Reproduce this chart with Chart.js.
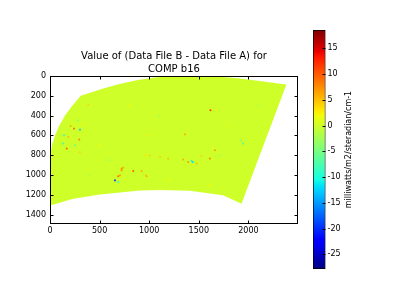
<!DOCTYPE html>
<html>
<head>
<meta charset="utf-8">
<script src="https://cdn.jsdelivr.net/npm/chart.js@4/dist/chart.umd.min.js"></script>
<style>
  html, body { margin: 0; padding: 0; background: #fff; }
  #wrap { position: relative; width: 400px; height: 300px; }
  #wrap canvas { position: absolute; left: 0; top: 0; }
</style>
</head>
<body>
<div id="wrap">
  <canvas id="main" width="400" height="300"></canvas>
  <canvas id="cbar" width="400" height="300"></canvas>
</div>
<script>
// ---- data ----
const titleLines = ['Value of (Data File B - Data File A) for', 'COMP b16'];
const cbLabel = 'milliwatts/m2/steradian/cm-1';

const xTicks = [0, 500, 1000, 1500, 2000];
const yTicks = [0, 200, 400, 600, 800, 1000, 1200, 1400];
const cbTicks = [-25, -20, -15, -10, -5, 0, 5, 10, 15];
const xMax = 2500, yMax = 1495;
const cbMin = -27.85, cbMax = 18.55;

// outline of the swath (all values ~0)
const swathX = [310, 537, 700, 873, 1050, 1208, 1400, 1600, 1800, 1913, 2150, 2383, 2258, 2156, 2064, 1930, 1745, 1410, 1109, 906, 705, 504, 235, 0, 0, 7, 20, 50, 95, 151, 225, 310];
const swathY = [200, 127, 80, 43, 15, 3, -3, 2, 15, 26, 55, 87, 420, 690, 935, 1290, 1205, 1160, 1152, 1157, 1178, 1197, 1240, 1308, 930, 800, 700, 600, 500, 400, 300, 200];
const swathVal = 0;

// isolated difference pixels
const ptX = [208, 302, 242, 141, 184, 295, 134, 168, 252, 302, 722, 655, 688, 705, 738, 839, 923, 974, 688, 1007, 957, 1360, 1191, 1343, 1427, 1393, 967, 1477, 1528, 1618, 1947, 1930, 1662, 1611, 1440, 386, 336, 285, 1713, 1109, 722,
  500, 1100, 800, 1800, 2100, 1200, 400, 1600, 1000, 600];
const ptY = [505, 541, 531, 599, 616, 642, 683, 733, 700, 768, 935, 1054, 1071, 1003, 925, 960, 960, 1013, 1013, 801, 801, 589, 834, 844, 859, 869, 1003, 885, 811, 346, 683, 650, 750, 834, 870, 289, 481, 448, 801, 817, 953,
  700, 400, 300, 500, 300, 1050, 1000, 1100, 600, 850];
const ptVal = [6, -13, 9, -10, 5, 8, -9, 10, -6, 4, 8, -20, -10, 7, 6, 10, 6, 6, 9, 4, 3, 6, 5, 6, -11, 7, 5, 5, 4, 12, -8, -5, 7, 8, -12, 4, 3, -4, -3, 4, 8,
  2, -2, 2, 2, -2, 2, -2, 2, 3, -3];

// ---- jet colormap ----
const jetR = [[0, 0], [0.35, 0], [0.66, 1], [0.89, 1], [1, 0.5]];
const jetG = [[0, 0], [0.125, 0], [0.375, 1], [0.64, 1], [0.91, 0], [1, 0]];
const jetB = [[0, 0.5], [0.11, 1], [0.34, 1], [0.65, 0], [1, 0]];

function seg(pts, t) {
  for (let i = 1; i < pts.length; i++) {
    if (t <= pts[i][0]) {
      const [t0, v0] = pts[i - 1], [t1, v1] = pts[i];
      return v0 + (v1 - v0) * (t - t0) / (t1 - t0);
    }
  }
  return pts[pts.length - 1][1];
}
function jetAt(t) {
  t = Math.min(1, Math.max(0, t));
  const c = [jetR, jetG, jetB].map(p => Math.round(seg(p, t) * 255));
  return `rgb(${c[0]},${c[1]},${c[2]})`;
}
const jet = (v) => jetAt((v - cbMin) / (cbMax - cbMin));

const FONT = 'DejaVu Sans';
const plain = (v) => String(v);

// ---- plugins ----
const frame = {
  id: 'frame',
  afterDraw(chart) {
    const { ctx, chartArea: a, scales: { x, y } } = chart;
    const L = Math.round(a.left) + 0.5, R = Math.round(a.right) - 0.5;
    const T = Math.round(a.top) + 0.5, B = Math.round(a.bottom) - 0.5;
    ctx.save();
    ctx.strokeStyle = '#000';
    ctx.lineWidth = 1;
    ctx.beginPath();
    for (const v of xTicks) {
      const px = Math.round(x.getPixelForValue(v)) + 0.5;
      ctx.moveTo(px, B); ctx.lineTo(px, B - 3);
      ctx.moveTo(px, T); ctx.lineTo(px, T + 3);
    }
    for (const v of yTicks) {
      const py = Math.round(y.getPixelForValue(v)) + 0.5;
      ctx.moveTo(L, py); ctx.lineTo(L + 3, py);
      ctx.moveTo(R, py); ctx.lineTo(R - 3, py);
    }
    ctx.stroke();
    ctx.strokeRect(L, T, R - L, B - T);
    ctx.restore();
  }
};

const cbDecor = {
  id: 'cbDecor',
  afterDraw(chart) {
    const { ctx, chartArea: a, scales: { y } } = chart;
    ctx.save();
    ctx.strokeStyle = '#000';
    ctx.lineWidth = 1;
    ctx.beginPath();
    for (const v of cbTicks) {
      const py = Math.round(y.getPixelForValue(v)) + 0.5;
      ctx.moveTo(a.right, py); ctx.lineTo(a.right - 3, py);
    }
    ctx.stroke();
    ctx.fillStyle = '#000';
    ctx.font = `8px "${FONT}"`;
    ctx.textAlign = 'center';
    ctx.textBaseline = 'middle';
    ctx.translate(348.5, (a.top + a.bottom) / 2);
    ctx.rotate(-Math.PI / 2);
    ctx.fillText(cbLabel, 0, 0);
    ctx.restore();
  }
};

// ---- main image ----
new Chart(document.getElementById('main'), {
  type: 'scatter',
  data: {
    datasets: [
      {
        data: ptX.map((x, i) => ({ x, y: ptY[i] })),
        pointStyle: 'rect',
        pointRadius: 1.2,
        pointBorderWidth: 0,
        backgroundColor: ptVal.map(jet),
        order: 1
      },
      {
        data: swathX.map((x, i) => ({ x, y: swathY[i] })),
        showLine: true,
        fill: 'shape',
        tension: 0,
        pointRadius: 0,
        borderWidth: 0,
        borderColor: jet(swathVal),
        backgroundColor: jet(swathVal),
        order: 2
      }
    ]
  },
  options: {
    responsive: false,
    animation: false,
    events: [],
    layout: { padding: { left: 0, right: 102, top: 0, bottom: 56 } },
    plugins: {
      legend: { display: false },
      tooltip: { enabled: false },
      title: {
        display: true,
        text: titleLines,
        fullSize: false,
        color: '#000',
        font: { family: FONT, size: 10, weight: 'normal', lineHeight: 1.3 },
        padding: { top: 49.5, bottom: 0.5 }
      }
    },
    scales: {
      x: {
        type: 'linear', min: 0, max: xMax,
        grid: { display: false, drawTicks: false }, border: { display: false },
        ticks: { color: '#000', font: { family: FONT, size: 8 }, padding: 2, maxRotation: 0, callback: plain },
        afterBuildTicks: (s) => { s.ticks = xTicks.map(v => ({ value: v })); },
        afterFit: (s) => { s.height = 20; }
      },
      y: {
        type: 'linear', min: 0, max: yMax, reverse: true,
        grid: { display: false, drawTicks: false }, border: { display: false },
        ticks: { color: '#000', font: { family: FONT, size: 8 }, padding: 4, callback: plain },
        afterBuildTicks: (s) => { s.ticks = yTicks.map(v => ({ value: v })); },
        afterFit: (s) => { s.width = 50; }
      }
    }
  },
  plugins: [frame]
});

// ---- colour bar ----
const jetStops = [...new Set([...jetR, ...jetG, ...jetB].map(p => p[0]))].sort((a, b) => a - b);

new Chart(document.getElementById('cbar'), {
  type: 'bar',
  data: {
    labels: [''],
    datasets: [{
      data: [[cbMin, cbMax]],
      backgroundColor: (c) => {
        const { chart } = c;
        if (!chart.chartArea) return 'transparent';
        const y = chart.scales.y;
        const g = chart.ctx.createLinearGradient(0, y.getPixelForValue(cbMin), 0, y.getPixelForValue(cbMax));
        jetStops.forEach(t => g.addColorStop(t, jetAt(t)));
        return g;
      },
      borderColor: '#000',
      borderWidth: 1,
      borderSkipped: false,
      barPercentage: 1,
      categoryPercentage: 1
    }]
  },
  options: {
    responsive: false,
    animation: false,
    events: [],
    layout: { padding: { left: 313, right: 0, top: 30, bottom: 31 } },
    plugins: { legend: { display: false }, tooltip: { enabled: false } },
    scales: {
      x: { display: false },
      y: {
        position: 'right', min: cbMin, max: cbMax,
        grid: { display: false, drawTicks: false }, border: { display: false },
        ticks: { color: '#000', font: { family: FONT, size: 8 }, padding: 2, callback: plain },
        afterBuildTicks: (s) => { s.ticks = cbTicks.map(v => ({ value: v })); },
        afterFit: (s) => { s.width = 74.5; }
      }
    }
  },
  plugins: [cbDecor]
});
</script>
</body>
</html>
